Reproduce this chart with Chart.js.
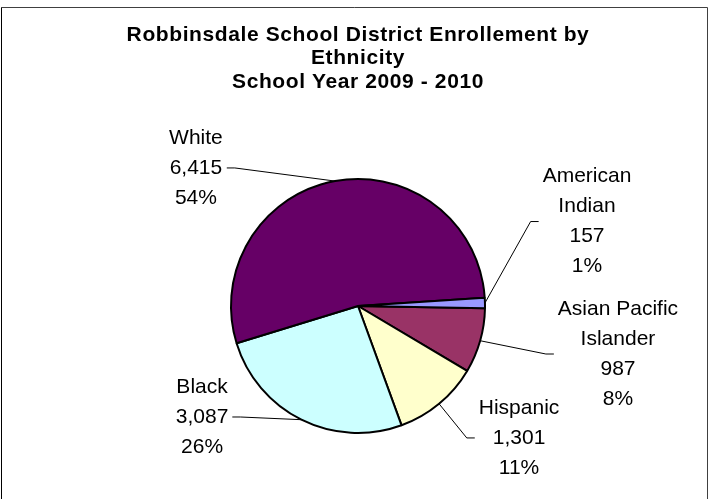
<!DOCTYPE html>
<html>
<head>
<meta charset="utf-8">
<script src="https://cdn.jsdelivr.net/npm/chart.js@4.4.1/dist/chart.umd.min.js"></script>
<style>
  html, body { margin: 0; padding: 0; background: #fff; }
  #wrap { width: 710px; height: 499px; position: relative; }
</style>
</head>
<body>
<div id="wrap"><canvas id="myChart" width="710" height="499"></canvas></div>
<script>
// data, in the order the slices run clockwise from 3 o'clock
const categories = ["Asian Pacific Islander", "Hispanic", "Black", "White", "American Indian"];
const labelLines = [["Asian Pacific", "Islander"], ["Hispanic"], ["Black"], ["White"], ["American", "Indian"]];
const enrollment = [987, 1301, 3087, 6415, 157];
const titleLines = ["Robbinsdale School District Enrollement by", "Ethnicity", "School Year 2009 - 2010"];

// styles
const sliceColors = ["#993366", "#FFFFCC", "#CCFFFF", "#660066", "#9999FF"];
// label block centre, relative to the pie centre, in pie radii
const labelOffsets = [[2.047, 0.378], [1.268, 1.039], [-1.228, 0.874], [-1.276, -1.087], [1.803, -0.665]];
const fontFamily = "'Liberation Sans', Arial, sans-serif";

const total = enrollment.reduce((a, b) => a + b, 0);

// chart border (bottom edge falls outside the picture)
const frame = {
  id: "frame",
  beforeDraw(chart) {
    const c = chart.ctx;
    c.save();
    c.fillStyle = "#fff";
    c.fillRect(0, 0, chart.width, chart.height);
    c.lineWidth = 1;
    c.beginPath();
    c.moveTo(1.5, chart.height);
    c.lineTo(1.5, 7.5);
    c.strokeStyle = "#000";
    c.stroke();
    c.beginPath();
    c.moveTo(1, 7.5);
    c.lineTo(707.5, 7.5);
    c.lineTo(707.5, chart.height);
    c.strokeStyle = "#404040";
    c.stroke();
    c.restore();
  },
};

const title = {
  id: "excelTitle",
  afterDraw(chart) {
    const c = chart.ctx;
    const a = chart.chartArea;
    c.save();
    c.font = "bold 21px " + fontFamily;
    c.letterSpacing = "0.6px";
    c.fillStyle = "#000";
    c.textAlign = "center";
    c.textBaseline = "middle";
    titleLines.forEach((t, i) => {
      c.fillText(t, (a.left + a.right) / 2, 35 + i * 23.5);
    });
    c.restore();
  },
};

const sliceLabels = {
  id: "sliceLabels",
  afterDatasetsDraw(chart) {
    const c = chart.ctx;
    const meta = chart.getDatasetMeta(0);
    c.save();
    c.font = "21px " + fontFamily;
    c.fillStyle = "#000";
    c.textAlign = "center";
    c.textBaseline = "middle";
    meta.data.forEach((arc, i) => {
      const p = arc.getProps(["x", "y", "startAngle", "endAngle", "outerRadius"], true);
      const mid = (p.startAngle + p.endAngle) / 2;
      const R = p.outerRadius;
      const ex = p.x + Math.cos(mid) * R;
      const ey = p.y + Math.sin(mid) * R;
      const cx = p.x + labelOffsets[i][0] * R;
      const cy = p.y + labelOffsets[i][1] * R;
      const v = enrollment[i];
      const lines = labelLines[i].concat([v.toLocaleString("en-US"), Math.round((v / total) * 100) + "%"]);
      const w = Math.max(...lines.map((t) => c.measureText(t).width));
      const lh = 30;

      // leader line from the slice edge to the side of the label block
      const side = cx < p.x ? 1 : -1;
      const ax = cx + side * (w / 2 + 4);
      const bx = ax + side * 8;
      c.beginPath();
      c.moveTo(ex, ey);
      c.lineTo(bx, cy);
      c.lineTo(ax, cy);
      c.strokeStyle = "#000";
      c.lineWidth = 1;
      c.stroke();

      lines.forEach((t, k) => {
        c.fillText(t, cx, cy - ((lines.length - 1) * lh) / 2 + k * lh);
      });
    });
    c.restore();
  },
};

new Chart(document.getElementById("myChart"), {
  type: "pie",
  data: {
    labels: categories,
    datasets: [
      {
        data: enrollment,
        backgroundColor: sliceColors,
        borderColor: "#000",
        borderWidth: 2,
        hoverOffset: 0,
      },
    ],
  },
  options: {
    responsive: false,
    animation: false,
    rotation: 91,
    layout: {
      padding: { left: 230, right: 224, top: 178, bottom: 65 },
    },
    plugins: {
      legend: { display: false },
      tooltip: { enabled: false },
      title: { display: false },
    },
  },
  plugins: [frame, title, sliceLabels],
});
</script>
</body>
</html>
